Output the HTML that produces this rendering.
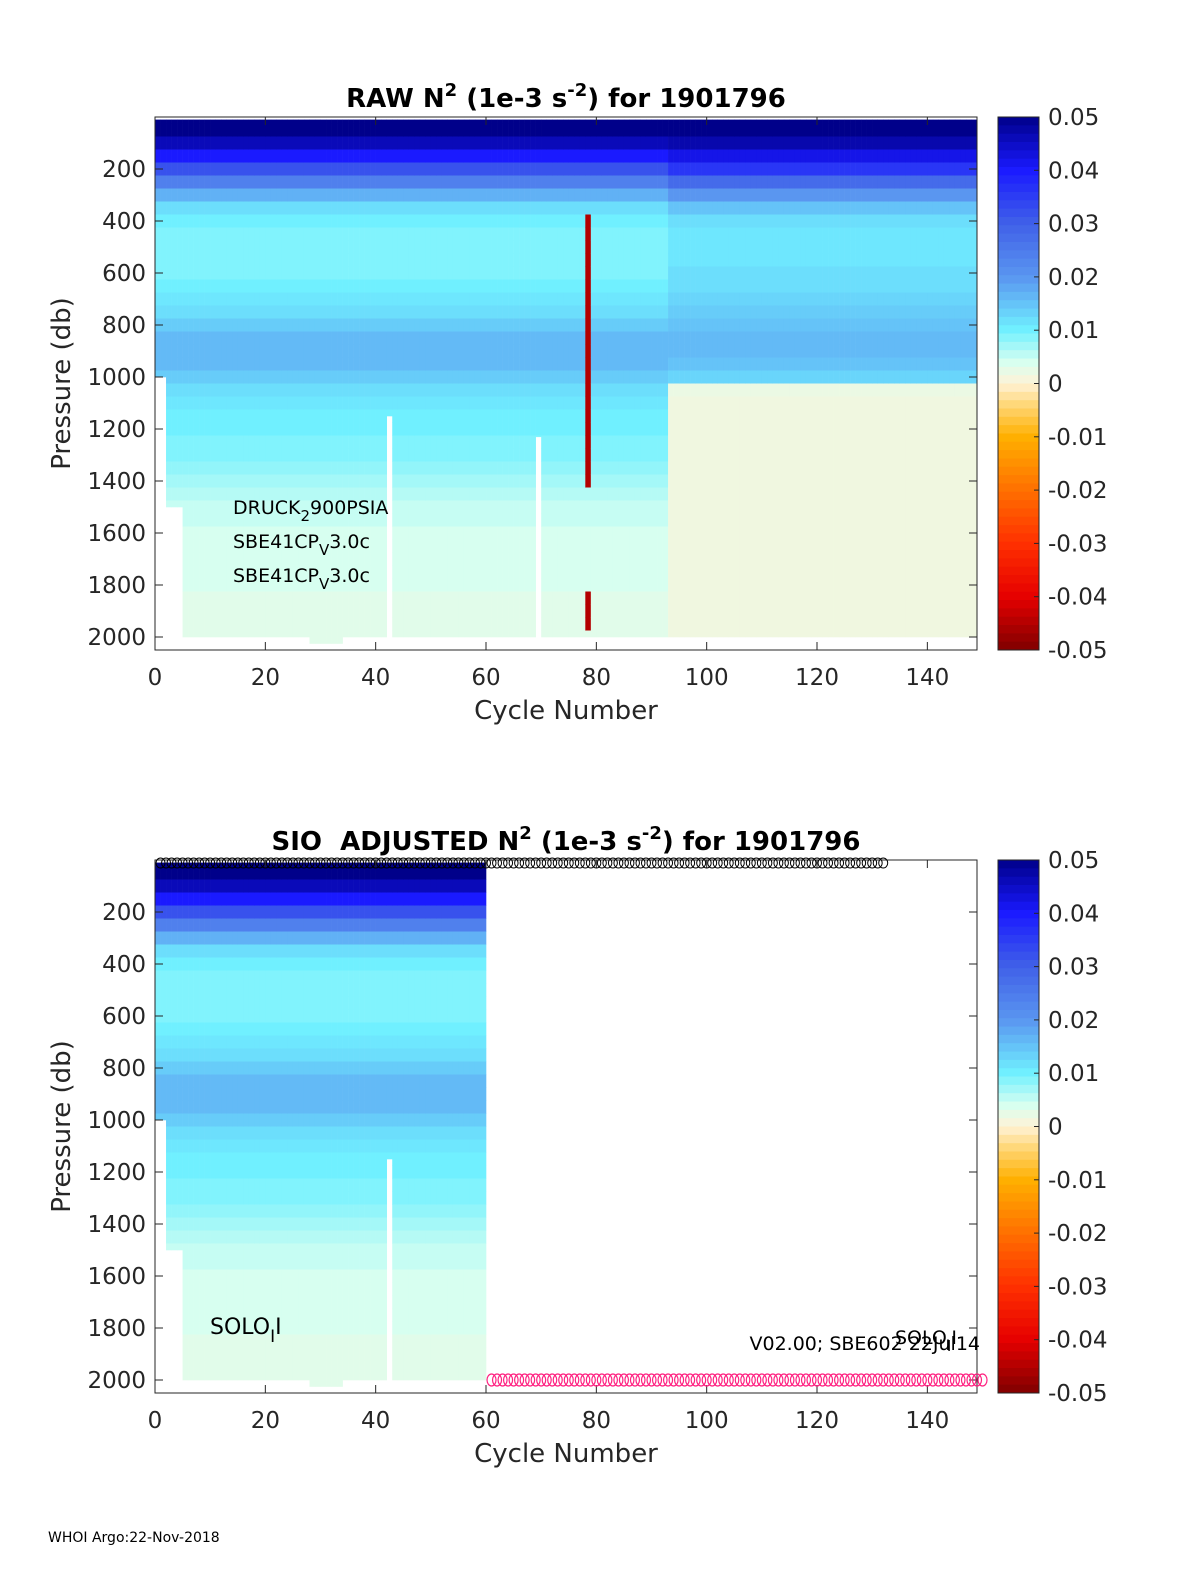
<!DOCTYPE html>
<html><head><meta charset="utf-8">
<style>
html,body{margin:0;padding:0;background:#fff;}
svg{display:block;font-family:"DejaVu Sans","Liberation Sans",sans-serif;}
</style></head>
<body>
<svg id="fig" width="1200" height="1575" viewBox="0 0 1200 1575" xmlns="http://www.w3.org/2000/svg">
<rect width="1200" height="1575" fill="#fff"/>
<g id="p1"></g>
<g id="p2"></g>
<text x="48" y="1542" font-size="14" fill="#000">WHOI Argo:22-Nov-2018</text>
</svg>
<script>
// ---- data ----
const depthBins = [0,50,100,150,200,250,300,350,400,450,500,550,600,650,700,750,800,850,900,950,1000,1050,1100,1150,1200,1250,1300,1350,1400,1450,1500,1550,1600,1650,1700,1750,1800,1850,1900,1950,2000];
const profileEarly = [0.05,0.05,0.046,0.04,0.032,0.024,0.017,0.012,0.01,0.009,0.009,0.009,0.009,0.01,0.011,0.012,0.014,0.016,0.016,0.016,0.014,0.012,0.011,0.01,0.01,0.009,0.009,0.008,0.007,0.006,0.005,0.005,0.004,0.004,0.004,0.004,0.004,0.003,0.003,0.003,0.003];
const profileLate  = [0.05,0.05,0.047,0.042,0.036,0.028,0.02,0.015,0.012,0.011,0.011,0.011,0.012,0.012,0.013,0.014,0.015,0.016,0.016,0.015,0.013,0.002,0.0015,0.0015,0.0015,0.0015,0.0015,0.0015,0.0015,0.0015,0.0015,0.0015,0.0015,0.0015,0.0015,0.0015,0.0015,0.0015,0.0015,0.0015,0.0015];
const lateStartCycle = 93;
// [firstCycle, lastCycle, maxPressure]
const maxPressureSegments = [[0,1,1000],[2,4,1500],[5,27,2000],[28,33,2050],[34,148,2000]];
// [cycle, gapStartPressure]
const gapCycles = [[42,1150],[69,1230]];
// [cycle, fromP, toP, value]
const anomalies = [[78,400,1400,-0.045],[78,1850,1950,-0.045]];
const adjustedLastCycle = 59;
const refCirclesTop = {from:1,to:132,p:0};
const refCirclesBottom = {from:61,to:150,p:2000};
const xTicks = [0,20,40,60,80,100,120,140];
const yTicks = [200,400,600,800,1000,1200,1400,1600,1800,2000];
const cbTicks = [0.05,0.04,0.03,0.02,0.01,0,-0.01,-0.02,-0.03,-0.04,-0.05];
const cbTickLabels = ["0.05","0.04","0.03","0.02","0.01","0","-0.01","-0.02","-0.03","-0.04","-0.05"];

const NS="http://www.w3.org/2000/svg";
const cmapStops=[[-0.05,[128,0,0]],[-0.04,[230,0,0]],[-0.03,[255,48,0]],[-0.02,[255,112,0]],[-0.01,[255,176,0]],[-0.004,[255,215,120]],[0,[255,242,215]],[0.004,[215,255,240]],[0.01,[112,240,255]],[0.02,[90,150,240]],[0.03,[64,96,232]],[0.04,[26,26,255]],[0.05,[0,0,138]]];
function cmap(v){
  v=Math.max(-0.05,Math.min(0.05,v));
  for(let i=0;i<cmapStops.length-1;i++){
    const a=cmapStops[i],b=cmapStops[i+1];
    if(v<=b[0]){const t=(v-a[0])/(b[0]-a[0]);
      const c=a[1].map((x,k)=>Math.round(x+(b[1][k]-x)*t));
      return `rgb(${c[0]},${c[1]},${c[2]})`;}
  }
  return 'rgb(0,0,138)';
}
function mk(tag,attrs,parent){const e=document.createElementNS(NS,tag);for(const k in attrs)e.setAttribute(k,attrs[k]);parent.appendChild(e);return e;}
function maxP(c){for(const s of maxPressureSegments){if(c>=s[0]&&c<=s[1])return s[2];}return 0;}

function panel(g,top,adjusted){
  const L=155,R=977,T=top,B=top+533;
  const xs=c=>L+(c/149)*(R-L);
  const ys=p=>T+(p/2050)*(B-T);
  const cells=mk('g',{},g);
  
  
  const lastC=adjusted?adjustedLastCycle:148;
  for(let c=0;c<=lastC;c++){
    const mp=maxP(c);
    const prof=c>=lateStartCycle?profileLate:profileEarly;
    let gapP=null;for(const gc of gapCycles)if(gc[0]===c)gapP=gc[1];
    for(let i=0;i<depthBins.length;i++){
      const p0=i===0?10:depthBins[i]-25, p1=Math.min(depthBins[i]+25,mp);
      if(p0>=mp)break;
      let a=p0,b=p1;
      if(gapP!==null){if(a>=gapP)continue; b=Math.min(b,gapP);}
      let v=prof[i];
      if(!adjusted)for(const an of anomalies)if(an[0]===c&&depthBins[i]>=an[1]&&depthBins[i]<=an[2])v=an[3];
      const r=mk('rect',{x:xs(c).toFixed(2),y:ys(a).toFixed(2),width:(xs(c+1)-xs(c)+0.3).toFixed(2),height:(ys(b)-ys(a)+0.3).toFixed(2),fill:cmap(v)},cells);
      
      
    }
  }
  const box=mk('rect',{x:L,y:T,width:R-L,height:B-T,fill:'none',stroke:'#262626','stroke-width':1},g);
  
  
  for(let i=0;i<xTicks.length;i++){
    const x=xs(xTicks[i]);
    mk('line',{x1:x,y1:B,x2:x,y2:B-8,stroke:'#262626'},g);
    mk('line',{x1:x,y1:T,x2:x,y2:T+8,stroke:'#262626'},g);
    const t=mk('text',{x:x,y:B+35,'font-size':23,'text-anchor':'middle',fill:'#262626'},g);
    t.textContent=xTicks[i];
    
    
  }
  for(let i=0;i<yTicks.length;i++){
    const y=ys(yTicks[i]);
    mk('line',{x1:L,y1:y,x2:L+8,y2:y,stroke:'#262626'},g);
    mk('line',{x1:R,y1:y,x2:R-8,y2:y,stroke:'#262626'},g);
    const t=mk('text',{x:L-9,y:y+8,'font-size':23,'text-anchor':'end',fill:'#262626'},g);
    t.textContent=yTicks[i];
    
    
  }
  const xt=mk('text',{x:566,y:B+69,'font-size':26,'text-anchor':'middle',fill:'#262626'},g);
  xt.textContent='Cycle Number';
  
  
  const yt=mk('text',{x:0,y:0,'font-size':26,'text-anchor':'middle',fill:'#262626',transform:`translate(70,${(T+B)/2}) rotate(-90)`},g);
  yt.textContent='Pressure (db)';
  
  
  const cbL=998,cbR=1039;
  const cys=v=>T+((0.05-v)/0.1)*(B-T);
  const cb=mk('g',{},g);
  
  
  for(let k=0;k<64;k++){
    const v1=0.05-k*0.1/64,v2=v1-0.1/64;
    mk('rect',{x:cbL,y:cys(v1),width:cbR-cbL,height:cys(v2)-cys(v1)+0.5,fill:cmap((v1+v2)/2)},cb);
  }
  mk('rect',{x:cbL,y:T,width:cbR-cbL,height:B-T,fill:'none',stroke:'#262626'},cb);
  for(let i=0;i<cbTicks.length;i++){
    const y=cys(cbTicks[i]);
    mk('line',{x1:cbR,y1:y,x2:cbR-5,y2:y,stroke:'#262626'},cb);
    const t=mk('text',{x:1048,y:y+8,'font-size':23,fill:'#262626'},cb);
    t.textContent=cbTickLabels[i];
    
    
  }
  return {xs,ys,L,R,T,B};
}

const p1=document.getElementById('p1'), p2=document.getElementById('p2');
panel(p1,117,false);
const a2=panel(p2,860,true);

const cTop=document.createElementNS(NS,'g');p2.appendChild(cTop);


for(let c=refCirclesTop.from;c<=refCirclesTop.to;c++)
  mk('ellipse',{cx:a2.xs(c),cy:a2.ys(refCirclesTop.p)+3,rx:4.5,ry:5,fill:'none',stroke:'#000','stroke-width':1},cTop);
const cBot=document.createElementNS(NS,'g');p2.appendChild(cBot);


for(let c=refCirclesBottom.from;c<=refCirclesBottom.to;c++)
  mk('ellipse',{cx:a2.xs(c),cy:a2.ys(refCirclesBottom.p),rx:4.5,ry:6,fill:'none',stroke:'#ff2080','stroke-width':1.2},cBot);

const fig=document.getElementById('fig');
fig.insertAdjacentHTML('beforeend',`
<text x="566" y="107" font-size="26" font-weight="bold" text-anchor="middle" fill="#000">RAW N<tspan font-size="18" dy="-11">2</tspan><tspan dy="11"> (1e-3 s</tspan><tspan font-size="18" dy="-11">-2</tspan><tspan dy="11">) for 1901796</tspan></text>
<text x="566" y="850" font-size="26" font-weight="bold" text-anchor="middle" fill="#000" xml:space="preserve">SIO  ADJUSTED N<tspan font-size="18" dy="-11">2</tspan><tspan dy="11"> (1e-3 s</tspan><tspan font-size="18" dy="-11">-2</tspan><tspan dy="11">) for 1901796</tspan></text>
<text x="233" y="514" font-size="19" fill="#000">DRUCK<tspan font-size="15" dy="7">2</tspan><tspan dy="-7">900PSIA</tspan></text>
<text x="233" y="548" font-size="19" fill="#000">SBE41CP<tspan font-size="15" dy="7">V</tspan><tspan dy="-7">3.0c</tspan></text>
<text x="233" y="582" font-size="19" fill="#000">SBE41CP<tspan font-size="15" dy="7">V</tspan><tspan dy="-7">3.0c</tspan></text>
<text x="210" y="1334" font-size="22" fill="#000">SOLO<tspan font-size="17" dy="8">I</tspan><tspan dy="-8">I</tspan></text>
<text x="980" y="1350" font-size="19" text-anchor="end" fill="#000">V02.00; SBE602 22Jul14</text>
<text x="895" y="1344" font-size="19" fill="#000">SOLO<tspan font-size="15" dy="7">I</tspan><tspan dy="-7">I</tspan></text>
`);
</script>
</body></html>
